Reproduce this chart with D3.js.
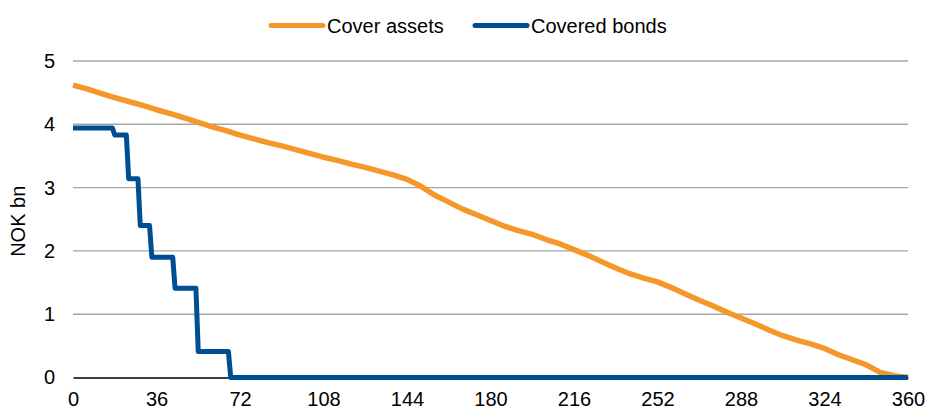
<!DOCTYPE html>
<html>
<head>
<meta charset="utf-8">
<script src="https://cdn.jsdelivr.net/npm/d3@7/dist/d3.min.js"></script>
<style>
  html, body { margin: 0; padding: 0; background: #ffffff; }
  svg { display: block; font-family: "Liberation Sans", Arial, sans-serif; }
</style>
</head>
<body>
<svg id="chart" width="926" height="411"></svg>
<script>
// Months since start (category axis 0..360)
const assetMonths = [
  0, 6, 12, 18, 24, 30, 36, 42, 48, 54, 60, 66, 72, 78, 84, 90, 96, 102, 108, 114,
  120, 126, 132, 138, 144, 150, 156, 162, 168, 174, 180, 186, 192, 198, 204, 210,
  216, 222, 228, 234, 240, 246, 252, 258, 264, 270, 276, 282, 288, 294, 300, 306,
  312, 318, 324, 330, 336, 342, 348, 354, 360
];
// Cover assets outstanding, NOK bn
const assetValues = [
  4.62, 4.56, 4.49, 4.42, 4.36, 4.30, 4.23, 4.17, 4.10, 4.03, 3.96, 3.90, 3.83, 3.77,
  3.71, 3.66, 3.60, 3.54, 3.48, 3.43, 3.37, 3.32, 3.26, 3.20, 3.13, 3.02, 2.88, 2.77,
  2.66, 2.57, 2.48, 2.39, 2.32, 2.26, 2.18, 2.11, 2.02, 1.93, 1.83, 1.73, 1.64, 1.57,
  1.51, 1.42, 1.32, 1.22, 1.13, 1.03, 0.94, 0.85, 0.75, 0.66, 0.59, 0.53, 0.46, 0.36,
  0.28, 0.20, 0.08, 0.03, 0.00
];
// Covered bonds outstanding, NOK bn (vertices of the amortisation profile)
const bondMonths = [0, 17, 18, 23, 24, 28, 29, 33, 34, 43, 44, 53, 54, 67, 68, 360];
const bondValues = [3.94, 3.94, 3.83, 3.83, 3.14, 3.14, 2.40, 2.40, 1.90, 1.90, 1.41, 1.41, 0.41, 0.41, 0.00, 0.00];

const xTicks = [0, 36, 72, 108, 144, 180, 216, 252, 288, 324, 360];
const yTicks = [0, 1, 2, 3, 4, 5];
const seriesNames = ["Cover assets", "Covered bonds"];
const seriesColors = ["#F6972A", "#004E92"];
const yTitle = "NOK bn";

const svg = d3.select("#chart");
const x = d3.scaleLinear().domain([0, 360]).range([73, 908]);
const y = d3.scaleLinear().domain([0, 5]).range([377.5, 61]);
const fontSize = "20px";

// Horizontal gridlines
svg.append("g")
  .selectAll("line")
  .data(yTicks.filter(d => d !== 0))
  .join("line")
  .attr("x1", x(0)).attr("x2", x(360))
  .attr("y1", d => y(d)).attr("y2", d => y(d))
  .attr("stroke", "#A6A6A6")
  .attr("stroke-width", 1.4);

// Y axis labels
const yAxis = d3.axisLeft(y).tickValues(yTicks).tickSize(0).tickPadding(18).tickFormat(d3.format("d"));
svg.append("g")
  .attr("transform", `translate(${x(0)},0)`)
  .call(yAxis)
  .call(g => g.select(".domain").remove())
  .call(g => g.selectAll("text")
    .attr("fill", "#000")
    .style("font-size", fontSize)
    .style("font-family", '"Liberation Sans", Arial, sans-serif'));

// X axis: baseline at zero plus labels
const xAxis = d3.axisBottom(x).tickValues(xTicks).tickSize(0).tickPadding(14).tickFormat(d3.format("d"));
svg.append("g")
  .attr("transform", `translate(0,${y(0)})`)
  .call(xAxis)
  .call(g => g.select(".domain").attr("stroke", "#000").attr("stroke-width", 1.6))
  .call(g => g.selectAll("text")
    .attr("fill", "#000")
    .style("font-size", fontSize)
    .style("font-family", '"Liberation Sans", Arial, sans-serif'));

// Y axis title
svg.append("text")
  .attr("transform", `translate(25,${(y(0) + y(5)) / 2 + 2}) rotate(-90)`)
  .attr("text-anchor", "middle")
  .style("font-size", fontSize)
  .attr("fill", "#000")
  .text(yTitle);

// Series lines
const line = d3.line().x(d => x(d[0])).y(d => y(d[1]));
const assets = assetMonths.map((m, i) => [m, assetValues[i]]);
const bonds = bondMonths.map((m, i) => [m, bondValues[i]]);

svg.append("path")
  .datum(assets)
  .attr("d", line)
  .attr("fill", "none")
  .attr("stroke", seriesColors[0])
  .attr("stroke-width", 5.5)
  .attr("stroke-linejoin", "round");

svg.append("path")
  .datum(bonds)
  .attr("d", line)
  .attr("fill", "none")
  .attr("stroke", seriesColors[1])
  .attr("stroke-width", 5)
  .attr("stroke-linejoin", "round");

// Legend
const legendItems = [
  { name: seriesNames[0], color: seriesColors[0], x0: 271 },
  { name: seriesNames[1], color: seriesColors[1], x0: 475 }
];
const legend = svg.append("g");
legendItems.forEach(it => {
  legend.append("line")
    .attr("x1", it.x0).attr("x2", it.x0 + 52)
    .attr("y1", 25.5).attr("y2", 25.5)
    .attr("stroke", it.color)
    .attr("stroke-width", 5)
    .attr("stroke-linecap", "round");
  legend.append("text")
    .attr("x", it.x0 + 56)
    .attr("y", 32.5)
    .style("font-size", fontSize)
    .attr("fill", "#000")
    .text(it.name);
});
</script>
</body>
</html>
